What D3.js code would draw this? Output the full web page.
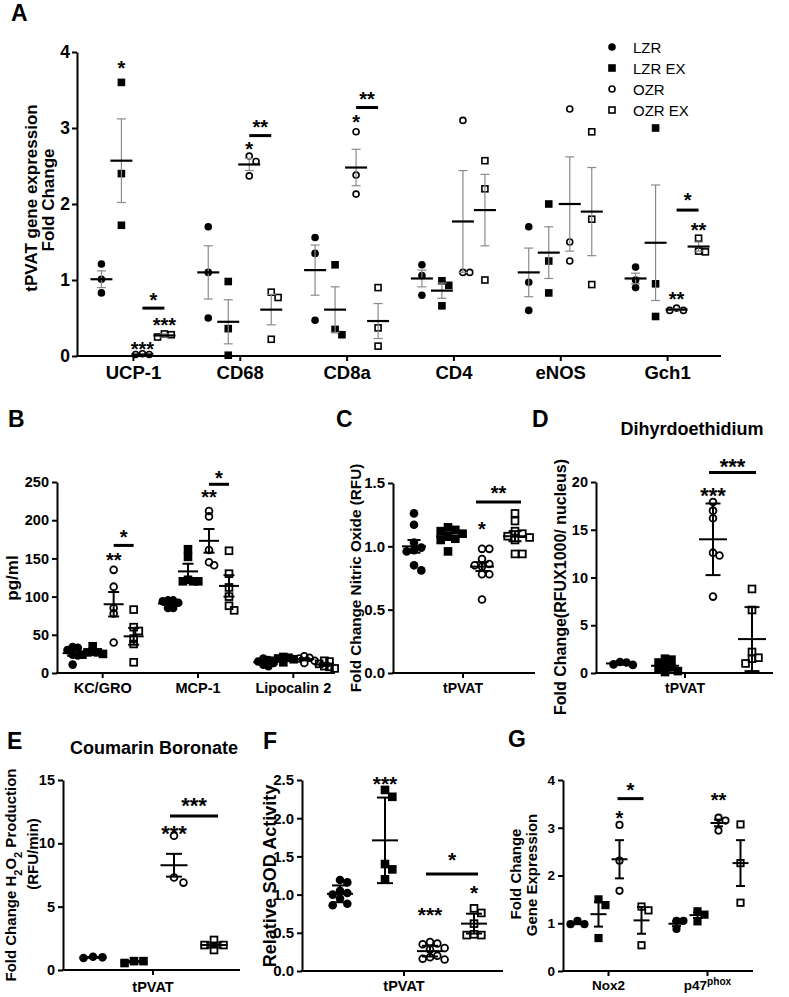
<!DOCTYPE html>
<html><head><meta charset="utf-8">
<script src="https://cdn.jsdelivr.net/npm/d3@7"></script>
<style>
body{margin:0;background:#fff}
text{font-family:"Liberation Sans",Arial,Helvetica,sans-serif}
</style>
</head><body>
<svg id="c" width="789" height="997"></svg>
<script>
// ---------------- DATA ----------------
const groups = ["LZR", "LZR EX", "OZR", "OZR EX"];

// Panel A: tPVAT gene expression fold change (per category: values)
const aCategories = ["UCP-1", "CD68", "CD8a", "CD4", "eNOS", "Gch1"];
const aTicks = [0, 1, 2, 3, 4];
const aLZR   = [[1.21,1.01,0.83],[1.7,1.1,0.5],[1.56,1.35,0.47],[1.2,1.06,0.8],[1.7,0.97,0.6],[1.17,1.0,0.9]];
const aLZREX = [[3.6,2.4,1.72],[0.98,0.36,0.01],[1.2,0.35,0.28],[0.99,0.93,0.66],[2.0,1.25,0.83],[3.0,0.95,0.52]];
const aOZR   = [[0.03,0.02,0.02],[2.63,2.56,2.37],[2.95,2.38,2.13],[3.1,1.1,1.1],[3.25,1.5,1.25],[0.63,0.6,0.6]];
const aOZREX = [[0.29,0.25,0.28],[0.84,0.77,0.22],[0.9,0.37,0.13],[2.57,2.2,1.0],[2.95,1.8,0.94],[1.55,1.37,1.38]];
const aMean  = [[1.01,1.1,1.13,1.02,1.1,1.02],[2.57,0.45,0.61,0.86,1.36,1.49],[0.02,2.52,2.48,1.77,2.0,0.61],[0.27,0.61,0.46,1.92,1.9,1.44]];
const aErr   = [[0.11,0.35,0.33,0.11,0.32,0.07],[0.55,0.29,0.3,0.1,0.34,0.76],[0,0.08,0.24,0.67,0.62,0.01],[0.02,0.2,0.23,0.47,0.58,0.06]];
const aStars = [
  {cat:"UCP-1",grp:1,v:3.85,t:"*"},{cat:"UCP-1",grp:2,v:0.16,t:"***"},{cat:"UCP-1",grp:3,v:0.47,t:"***"},
  {cat:"CD68",grp:2,v:2.79,t:"*"},{cat:"CD8a",grp:2,v:3.15,t:"*"},
  {cat:"Gch1",grp:2,v:0.82,t:"**"},{cat:"Gch1",grp:3,v:1.72,t:"**"}];
const aBars = [
  {cat:"UCP-1",v:0.63,labelV:0.8,t:"*"},{cat:"CD68",v:2.9,labelV:3.08,t:"**"},
  {cat:"CD8a",v:3.27,labelV:3.45,t:"**"},{cat:"Gch1",v:1.92,labelV:2.12,t:"*"}];

// Panel B: pg/ml
const bCategories = ["KC/GRO", "MCP-1", "Lipocalin 2"];
const bTicks = [0, 50, 100, 150, 200, 250];
const bLZR   = [[34,33,30,24,23,11],[95,95,94,92,85,85],[19,17,15,13,11,9]];
const bLZREX = [[35,28,27,27,25,24],[162,152,122,120,120,120],[21,20,19,18,16,14]];
const bOZR   = [[135,113,85,78,40],[212,205,161,145,141],[22,20,19,16,13]];
const bOZREX = [[83,60,55,45,38,14],[160,130,112,100,88,82],[16,15,12,9,8,6]];
const bMean  = [[26,91,14],[28,133,18],[90,173,18],[48,114,11]];
const bErr   = [[3.5,2,1.5],[2,10,1.2],[16,15.5,1.5],[11,14,1.8]];
const bStars = [{cat:"KC/GRO",grp:2,v:155,t:"**"},{cat:"MCP-1",grp:2,v:237,t:"**"}];
const bBars  = [{cat:"KC/GRO",v:167,labelV:184,t:"*"},{cat:"MCP-1",v:247,labelV:262,t:"*"}];

// Panel C: Fold change nitric oxide
const cCategories = ["tPVAT"];
const cTicks = [0, 0.5, 1.0, 1.5];
const cLZR   = [[1.26,1.17,1.03,0.99,0.97,0.96,0.85,0.81]];
const cLZREX = [[1.15,1.13,1.12,1.1,1.08,1.06,1.05,0.96]];
const cOZR   = [[0.98,0.98,0.9,0.86,0.84,0.85,0.78,0.78,0.58]];
const cOZREX = [[1.26,1.2,1.12,1.1,1.08,1.07,1.05,0.94,0.94]];
const cMean  = [[1.0],[1.08],[0.84],[1.08]];
const cErr   = [[0.05],[0.03],[0.035],[0.04]];
const cStars = [{cat:"tPVAT",grp:2,v:1.18,t:"*"}];
const cBars  = [{cat:"tPVAT",v:1.35,labelV:1.46,t:"**"}];

// Panel D: Dihyrdoethidium
const dCategories = ["tPVAT"];
const dTicks = [0, 5, 10, 15, 20];
const dLZR   = [[1.15,1.1,0.9,0.85]];
const dLZREX = [[1.5,1.4,1.1,0.8,0.6,0.4,0.2,0.1]];
const dOZR   = [[17.9,17.0,16.2,12.6,12.3,8.0]];
const dOZREX = [[8.8,6.6,2.2,1.6,1.5,1.0]];
const dMean  = [[1.0],[0.76],[14.0],[3.55]];
const dErr   = [[0.12],[0.5],[3.75],[3.35]];
const dStars = [{cat:"tPVAT",grp:2,v:19.2,t:"***"}];
const dBars  = [{cat:"tPVAT",v:21.0,labelV:22.2,t:"***"}];

// Panel E: Coumarin Boronate
const eCategories = ["tPVAT"];
const eTicks = [0, 5, 10, 15];
const eLZR   = [[1.0,1.05,0.95]];
const eLZREX = [[0.55,0.7,0.7]];
const eOZR   = [[10.6,6.9,7.3]];
const eOZREX = [[2.37,1.58,1.97,1.97]];
const eMean  = [[1.0],[0.65],[8.27],[1.97]];
const eErr   = [[0.03],[0.05],[0.9],[0.2]];
const eStars = [{cat:"tPVAT",grp:2,v:11.2,t:"***"}];
const eBars  = [{cat:"tPVAT",v:12.15,labelV:13.4,t:"***"}];

// Panel F: Relative SOD activity
const fCategories = ["tPVAT"];
const fTicks = [0, 0.5, 1.0, 1.5, 2.0, 2.5];
const fLZR   = [[1.19,1.16,1.05,1.02,1.0,0.95,0.88,0.86]];
const fLZREX = [[2.37,2.28,1.4,1.33,1.2]];
const fOZR   = [[0.38,0.36,0.35,0.3,0.28,0.2,0.18,0.16,0.15]];
const fOZREX = [[0.82,0.76,0.62,0.48,0.47,0.47]];
const fMean  = [[1.01],[1.71],[0.26],[0.62]];
const fErr   = [[0.11],[0.56],[0.07],[0.13]];
const fStars = [{cat:"tPVAT",grp:1,v:2.52,t:"***"},{cat:"tPVAT",grp:2,v:0.8,t:"***"},{cat:"tPVAT",grp:3,v:1.09,t:"*"}];
const fBars  = [{cat:"tPVAT",v:1.27,labelV:1.53,t:"*"}];

// Panel G: Fold change gene expression
const gCategories = ["Nox2", "p47phox"];
const gTicks = [0, 1, 2, 3, 4];
const gLZR   = [[0.98,1.05,0.98],[1.05,1.05,0.88]];
const gLZREX = [[1.5,1.38,0.69],[1.25,1.18,1.04]];
const gOZR   = [[3.06,2.31,1.68],[3.21,3.15,2.94]];
const gOZREX = [[1.35,1.27,0.54],[3.07,2.26,1.43]];
const gMean  = [[1.0,0.99],[1.19,1.17],[2.34,3.1],[1.06,2.26]];
const gErr   = [[0.02,0.05],[0.26,0.06],[0.4,0.07],[0.28,0.48]];
const gStars = [{cat:"Nox2",grp:2,v:3.31,t:"*"},{cat:"p47phox",grp:2,v:3.69,t:"**"}];
const gBars  = [{cat:"Nox2",v:3.61,labelV:3.9,t:"*"}];

// ---------------- DRAWING ----------------
const svg = d3.select("#c");

function dodge(vals, y, cx, d) {
  const pts = vals.map(v => ({v, py: y(v)}));
  const order = pts.slice().sort((a, b) => a.py - b.py);
  const placed = [];
  order.forEach(p => {
    for (let k = 0; k < 30; k++) {
      const off = k === 0 ? 0 : (k % 2 ? 1 : -1) * Math.ceil(k / 2) * d;
      const px = cx + off;
      if (placed.every(q => Math.hypot(q.px - px, q.py - p.py) >= d * 0.999)) { p.px = px; break; }
    }
    placed.push(p);
  });
  return pts;
}

function marker(g, grp, x, y, r, sw) {
  if (grp === 0) g.append("circle").attr("cx", x).attr("cy", y).attr("r", r).attr("fill", "#000");
  else if (grp === 1) g.append("rect").attr("x", x - r).attr("y", y - r).attr("width", 2 * r).attr("height", 2 * r).attr("fill", "#000");
  else if (grp === 2) g.append("circle").attr("cx", x).attr("cy", y).attr("r", r - sw / 2).attr("fill", "none").attr("stroke", "#000").attr("stroke-width", sw);
  else g.append("rect").attr("x", x - r + sw / 2).attr("y", y - r + sw / 2).attr("width", 2 * r - sw).attr("height", 2 * r - sw).attr("fill", "none").attr("stroke", "#000").attr("stroke-width", sw);
}

function drawPanel(p) {
  const g = svg.append("g");
  const y = d3.scaleLinear().domain(p.yDomain).range(p.yRange);
  const x = d3.scaleBand().domain(p.categories).range(p.bandRange);
  const cx = c => x(c) + x.bandwidth() / 2;
  const gx = (c, j) => cx(c) + p.offsets[j];

  // y axis
  const ya = g.append("g").attr("transform", `translate(${p.axisX},0)`)
    .call(d3.axisLeft(y).tickValues(p.yTicks).tickFormat(p.yFormat).tickSize(5).tickSizeOuter(0).tickPadding(p.yPad || 3));
  ya.select(".domain").attr("stroke-width", 2);
  ya.selectAll(".tick line").attr("stroke-width", 2);
  ya.selectAll(".tick text").attr("font-size", p.tickFont).attr("font-weight", "bold")
    .attr("font-family", '"Liberation Sans",Arial,sans-serif').attr("fill", "#000");

  // x axis
  const xa = g.append("g").attr("transform", `translate(0,${p.yRange[0]})`)
    .call(d3.axisBottom(x).tickSize(5).tickSizeOuter(0).tickPadding(p.xPad || 5));
  xa.select(".domain").remove();
  xa.append("line").attr("x1", p.axisX - 1).attr("x2", p.xEnd).attr("y1", 0).attr("y2", 0)
    .attr("stroke", "#000").attr("stroke-width", 2);
  xa.selectAll(".tick line").attr("stroke-width", 2);
  xa.selectAll(".tick text").attr("font-size", p.catFont).attr("font-weight", "bold")
    .attr("font-family", '"Liberation Sans",Arial,sans-serif').attr("fill", "#000")
    .each(function(d) {
      if (d === "p47phox") {
        const t = d3.select(this); t.text("");
        t.append("tspan").text("p47");
        t.append("tspan").attr("baseline-shift", "super").attr("font-size", p.catFont * 0.75).text("phox");
      }
    });

  // points
  const pg = g.append("g");
  p.data.forEach((series, j) => {
    p.categories.forEach((c, i) => {
      dodge(series[i], y, gx(c, j), p.r * 2 * p.dodgeF).forEach(pt => marker(pg, j, pt.px, pt.py, p.r, p.sw));
    });
  });

  // error bars and means
  const eg = g.append("g");
  p.categories.forEach((c, i) => {
    groups.forEach((grpName, j) => {
      const m = p.mean[j][i], e = p.err[j][i], xc = gx(c, j);
      if (e > 0) {
        eg.append("line").attr("x1", xc).attr("x2", xc).attr("y1", y(m - e)).attr("y2", y(m + e))
          .attr("stroke", p.errColor).attr("stroke-width", p.errW);
        [m - e, m + e].forEach(v => eg.append("line").attr("x1", xc - p.capW / 2).attr("x2", xc + p.capW / 2)
          .attr("y1", y(v)).attr("y2", y(v)).attr("stroke", p.errColor).attr("stroke-width", p.errW));
      }
      eg.append("line").attr("x1", xc - p.meanW / 2).attr("x2", xc + p.meanW / 2).attr("y1", y(m)).attr("y2", y(m))
        .attr("stroke", "#000").attr("stroke-width", p.meanSW);
    });
  });

  // significance
  const sg = g.append("g");
  const star = (xx, v, t) => sg.append("text").attr("x", xx).attr("y", y(v) + p.starFont * 0.6)
    .attr("text-anchor", "middle").attr("font-size", p.starFont).attr("font-weight", "bold").text(t);
  p.stars.forEach(s => star(gx(s.cat, s.grp), s.v, s.t));
  p.bars.forEach(b => {
    const x1 = gx(b.cat, 2) - p.barPad, x2 = gx(b.cat, 3) + p.barPad;
    sg.append("line").attr("x1", x1).attr("x2", x2).attr("y1", y(b.v)).attr("y2", y(b.v))
      .attr("stroke", "#000").attr("stroke-width", 3);
    star((x1 + x2) / 2, b.labelV, b.t);
  });
  return g;
}

function label(x, y, txt, size, opts = {}) {
  return svg.append("text").attr("x", x).attr("y", y).attr("font-size", size)
    .attr("font-weight", opts.normal ? "normal" : "bold").attr("text-anchor", opts.anchor || "start").text(txt);
}
function vlabel(bx, cy, size) {
  return svg.append("text").attr("transform", `translate(${bx},${cy}) rotate(-90)`)
    .attr("text-anchor", "middle").attr("font-size", size).attr("font-weight", "bold");
}

const common = {errColor: "#000", errW: 2, meanSW: 2, sw: 1.8, r: 4.3, dodgeF: 0.95, barPad: 2};

// Panel A
drawPanel(Object.assign({}, common, {
  categories: aCategories, yDomain: [0, 4], yRange: [356, 52], yTicks: aTicks, yFormat: d3.format("d"),
  bandRange: [80, 721], axisX: 77, xEnd: 721, offsets: [-32, -12, 9, 31],
  data: [aLZR, aLZREX, aOZR, aOZREX], mean: aMean, err: aErr, stars: aStars, bars: aBars,
  tickFont: 17.5, catFont: 18.5, xPad: 5, yPad: 2, starFont: 20, r: 3.8, sw: 1.6, dodgeF: 0.9,
  errColor: "#8a8a8a", errW: 1.2, capW: 9, meanW: 22, meanSW: 2.2, barPad: 0
}));
// Panel B
drawPanel(Object.assign({}, common, {
  categories: bCategories, yDomain: [0, 250], yRange: [673, 482], yTicks: bTicks, yFormat: d3.format("d"),
  bandRange: [55, 341], axisX: 57, xEnd: 335, offsets: [-30, -10, 11, 31],
  data: [bLZR, bLZREX, bOZR, bOZREX], mean: bMean, err: bErr, stars: bStars, bars: bBars,
  tickFont: 14.5, catFont: 14.5, starFont: 20, capW: 11, meanW: 20, barPad: 0, dodgeF: 0.6
}));
// Panel C
drawPanel(Object.assign({}, common, {
  categories: cCategories, yDomain: [0, 1.5], yRange: [673, 483], yTicks: cTicks, yFormat: d3.format(".1f"),
  bandRange: [393, 533], axisX: 393, xEnd: 535, offsets: [-49, -15, 19, 52],
  data: [cLZR, cLZREX, cOZR, cOZREX], mean: cMean, err: cErr, stars: cStars, bars: cBars,
  tickFont: 15, catFont: 14, starFont: 20, capW: 13, meanW: 24, barPad: 6, dodgeF: 0.85
}));
// Panel D
drawPanel(Object.assign({}, common, {
  categories: dCategories, yDomain: [0, 20], yRange: [673, 482], yTicks: dTicks, yFormat: d3.format("d"),
  bandRange: [597, 773], axisX: 596, xEnd: 773, offsets: [-65, -20, 28, 67],
  data: [dLZR, dLZREX, dOZR, dOZREX], mean: dMean, err: dErr, stars: dStars, bars: dBars,
  tickFont: 14.5, catFont: 14, starFont: 22, capW: 15, meanW: 28, barPad: 4, dodgeF: 0.75
}));
// Panel E
drawPanel(Object.assign({}, common, {
  categories: eCategories, yDomain: [0, 15], yRange: [970, 780], yTicks: eTicks, yFormat: d3.format("d"),
  bandRange: [63, 243], axisX: 63, xEnd: 240, offsets: [-60, -19, 21, 61], xPad: 7,
  data: [eLZR, eLZREX, eOZR, eOZREX], mean: eMean, err: eErr, stars: eStars, bars: eBars,
  tickFont: 14.5, catFont: 14.5, starFont: 22, capW: 16, meanW: 27, barPad: 4, dodgeF: 1.1
}));
// Panel F
drawPanel(Object.assign({}, common, {
  categories: fCategories, yDomain: [0, 2.5], yRange: [971, 780], yTicks: fTicks, yFormat: d3.format(".1f"),
  bandRange: [302, 506], axisX: 302, xEnd: 503, offsets: [-64, -19, 26, 70],
  data: [fLZR, fLZREX, fOZR, fOZREX], mean: fMean, err: fErr, stars: fStars, bars: fBars,
  tickFont: 15, catFont: 14.5, starFont: 21, capW: 16, meanW: 26, barPad: 4, dodgeF: 0.85
}));
// Panel G
drawPanel(Object.assign({}, common, {
  categories: gCategories, yDomain: [0, 4], yRange: [971, 780], yTicks: gTicks, yFormat: d3.format("d"),
  bandRange: [559, 757], axisX: 563, xEnd: 753, offsets: [-31, -10, 11, 33], xPad: 4,
  data: [gLZR, gLZREX, gOZR, gOZREX], mean: gMean, err: gErr, stars: gStars, bars: gBars,
  tickFont: 13.5, catFont: 13.5, starFont: 20, capW: 9, meanW: 16, r: 4.1, barPad: 2, dodgeF: 0.85
}));

// Panel letters
[["A", 11, 21], ["B", 8, 427], ["C", 336, 427], ["D", 532, 427], ["E", 7, 749], ["F", 263, 749], ["G", 508, 747]]
  .forEach(([t, x, y]) => label(x, y, t, 23));

// Titles
label(692, 435, "Dihyrdoethidium", 18, {anchor: "middle"});
label(154, 754, "Coumarin Boronate", 18, {anchor: "middle"});

// Y-axis labels
vlabel(37, 198, 17).text("tPVAT gene expression");
vlabel(54, 200, 17).text("Fold Change");
vlabel(18, 578, 17).text("pg/ml");
vlabel(361, 578, 15.3).text("Fold Change Nitric Oxide (RFU)");
vlabel(566, 587, 16).text("Fold Change(RFUX1000/ nucleus)");
(function() {
  const t = vlabel(16, 875, 15);
  t.append("tspan").text("Fold Change H");
  t.append("tspan").attr("baseline-shift", "sub").attr("font-size", 11).text("2");
  t.append("tspan").text("O");
  t.append("tspan").attr("baseline-shift", "sub").attr("font-size", 11).text("2");
  t.append("tspan").text(" Production");
})();
vlabel(38, 854, 15).text("(RFU/min)");
vlabel(276, 876, 18).text("Relative SOD Activity");
vlabel(521, 874, 15).text("Fold Change");
vlabel(537, 875, 15).text("Gene Expression");

// Legend (panel A)
const lg = svg.append("g");
groups.forEach((name, j) => {
  const yy = 47 + j * 21;
  marker(lg, j, 612, yy, 3.8, 1.6);
  lg.append("text").attr("x", 633).attr("y", yy + 5.5).attr("font-size", 15).text(name);
});
</script>
</body></html>
